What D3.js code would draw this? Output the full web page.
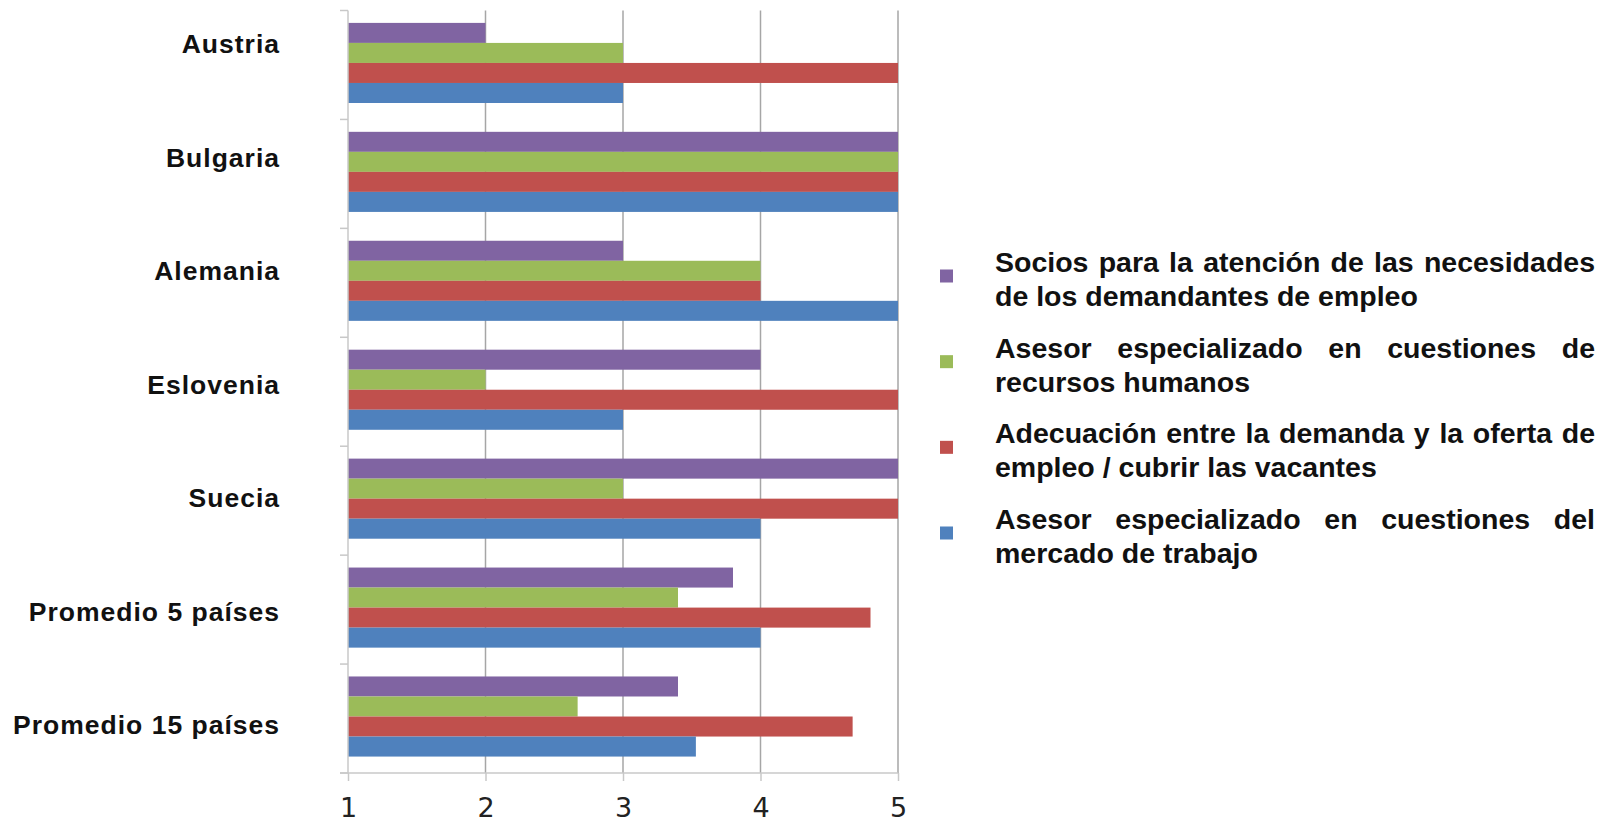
<!DOCTYPE html>
<html>
<head>
<meta charset="utf-8">
<script src="https://cdn.jsdelivr.net/npm/d3@7"></script>
<style>
  html, body { margin: 0; padding: 0; background: #fff; }
</style>
</head>
<body>
<div id="chart"></div>
<script>
const CATEGORIES = [
    "Austria", "Bulgaria", "Alemania", "Eslovenia", "Suecia",
    "Promedio 5 países", "Promedio 15 países"
];

const SERIES_KEYS = ["socios", "rrhh", "adecuacion", "mercado"];

const SERIES_LINES = [
    ["Socios para la atención de  las necesidades", "de los demandantes de empleo"],
    ["Asesor especializado en cuestiones de", "recursos humanos"],
    ["Adecuación entre la demanda y la oferta de", "empleo / cubrir las vacantes"],
    ["Asesor especializado en cuestiones del", "mercado de trabajo"]
];

const SERIES_COLORS = ["#8064A2", "#9BBB59", "#C0504D", "#4F81BD"];

const SOCIOS     = [2, 5, 3, 4, 5, 3.8, 3.4];
const RRHH       = [3, 5, 4, 2, 3, 3.4, 2.67];
const ADECUACION = [5, 5, 4, 5, 5, 4.8, 4.67];
const MERCADO    = [3, 5, 5, 3, 4, 4, 3.53];

const X_TICKS = [1, 2, 3, 4, 5];

const seriesValues = { socios: SOCIOS, rrhh: RRHH, adecuacion: ADECUACION, mercado: MERCADO };

const width = 1616, height = 827;
const plot = { left: 348, right: 898, top: 10.5, bottom: 773 };

const svg = d3.select("#chart")
    .append("svg")
    .attr("width", width)
    .attr("height", height)
    .style("background", "#fff");

const x = d3.scaleLinear().domain([1, 5]).range([plot.left, plot.right]);
const y = d3.scaleBand().domain(CATEGORIES).range([plot.top, plot.bottom]);
const ySub = d3.scaleBand().domain(SERIES_KEYS)
    .range([0, y.bandwidth()])
    .paddingOuter(0.72)
    .align(0.43);
// the category labels sit a bit off the group centres in the original
const yLabel = d3.scalePoint().domain(CATEGORIES).range([44, 725]);

// gridlines
svg.append("g")
    .selectAll("line")
    .data(X_TICKS.slice(1))
    .enter().append("line")
    .attr("x1", d => x(d)).attr("x2", d => x(d))
    .attr("y1", plot.top).attr("y2", plot.bottom)
    .attr("stroke", "#a6a6a6")
    .attr("stroke-width", 1.5);

// bars
const rows = CATEGORIES.map((c, i) => ({
    cat: c,
    vals: SERIES_KEYS.map((k, j) => ({ key: k, value: seriesValues[k][i], color: SERIES_COLORS[j] }))
}));

const groups = svg.append("g")
    .selectAll("g")
    .data(rows)
    .enter().append("g")
    .attr("transform", d => `translate(0,${y(d.cat)})`);

groups.selectAll("rect")
    .data(d => d.vals)
    .enter().append("rect")
    .attr("x", x(1))
    .attr("y", d => ySub(d.key))
    .attr("width", d => x(d.value) - x(1))
    .attr("height", ySub.bandwidth())
    .attr("fill", d => d.color);

// left axis (category boundaries as ticks)
svg.append("line")
    .attr("x1", x(1)).attr("x2", x(1))
    .attr("y1", plot.top).attr("y2", plot.bottom)
    .attr("stroke", "#c8c8c8")
    .attr("stroke-width", 1.5);

svg.append("g")
    .selectAll("line")
    .data(CATEGORIES.concat(["_end"]))
    .enter().append("line")
    .attr("x1", x(1) - 8).attr("x2", x(1))
    .attr("y1", (d, i) => i < CATEGORIES.length ? y(d) : plot.bottom)
    .attr("y2", (d, i) => i < CATEGORIES.length ? y(d) : plot.bottom)
    .attr("stroke", "#c8c8c8")
    .attr("stroke-width", 1.5);

// bottom axis
const xAxis = svg.append("g")
    .attr("transform", `translate(0,${plot.bottom})`)
    .call(d3.axisBottom(x).tickValues(X_TICKS).tickFormat(d3.format("d")).tickSize(8).tickPadding(17));
xAxis.select(".domain")
    .attr("d", `M${x(1) - 8},0H${x(5)}`)
    .attr("stroke", "#c8c8c8")
    .attr("stroke-width", 1.5);
xAxis.selectAll(".tick line")
    .attr("stroke", "#c8c8c8")
    .attr("stroke-width", 1.5);
xAxis.selectAll(".tick text")
    .attr("fill", "#222")
    .style("font-family", "'DejaVu Sans', Verdana, sans-serif")
    .style("font-size", "27px");

// category labels
svg.append("g")
    .selectAll("text")
    .data(CATEGORIES)
    .enter().append("text")
    .attr("x", 280)
    .attr("y", d => yLabel(d))
    .attr("text-anchor", "end")
    .attr("dominant-baseline", "central")
    .style("font-family", "'Liberation Sans', Arial, sans-serif")
    .style("font-weight", 700)
    .style("font-size", "26.5px")
    .style("letter-spacing", "1px")
    .attr("fill", "#111")
    .text(d => d);

// legend
const legendX = 995, legendW = 600, lineH = 34;
const yLegend = d3.scalePoint().domain(SERIES_KEYS).range([262, 519]);
const legendFont = "'Liberation Sans', Arial, sans-serif";

const leg = svg.append("g");
SERIES_KEYS.forEach((k, i) => {
    const y0 = yLegend(k);
    leg.append("rect")
        .attr("x", 940)
        .attr("y", y0 + 14 - 6.5)
        .attr("width", 13)
        .attr("height", 13)
        .attr("fill", SERIES_COLORS[i]);

    SERIES_LINES[i].forEach((line, li) => {
        const t = leg.append("text")
            .attr("y", y0 + li * lineH)
            .attr("dominant-baseline", "central")
            .style("font-family", legendFont)
            .style("font-weight", 700)
            .style("font-size", "28.5px")
            .attr("fill", "#111");
        if (li === 0) {
            // justified first line: spread the words across the full width
            const words = line.split(/\s+/);
            const spans = words.map(w => t.append("tspan").text(w));
            const widths = spans.map(s => s.node().getComputedTextLength());
            const gap = (legendW - d3.sum(widths)) / (words.length - 1);
            let cx = legendX;
            spans.forEach((s, j) => {
                s.attr("x", cx);
                cx += widths[j] + gap;
            });
        } else {
            t.attr("x", legendX).text(line);
        }
    });
});
</script>
</body>
</html>
